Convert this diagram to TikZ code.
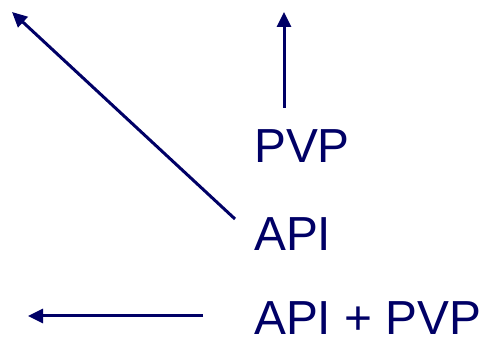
\documentclass[tikz,border=0pt]{standalone}
\usepackage{fontspec}
\setmainfont{Liberation Sans}
\usetikzlibrary{arrows.meta}
\definecolor{navy}{HTML}{000066}
\begin{document}
\begin{tikzpicture}[x=1pt,y=1pt,
  label/.style={anchor=base west,inner sep=0pt,text=navy,font=\fontsize{47.8}{52}\selectfont},
  pointer/.style={draw=navy,line width=3pt,-{Triangle[length=15pt,width=14pt]}}]
  \useasboundingbox (0,0) rectangle (483,339);
  \node[label] (pvp) at (254,176) {PVP};
  \node[label] (api) at (254,88) {API};
  \node[label] (both) at (254,4) {API + PVP};
  \coordinate (pvpstart) at (284,231);
  \coordinate (pvpend) at (284,327);
  \coordinate (apistart) at (235,120);
  \coordinate (apiend) at (12,327);
  \coordinate (bothstart) at (203,23);
  \coordinate (bothend) at (28,23);
  \draw[pointer] (pvpstart) -- (pvpend);
  \draw[pointer] (apistart) -- (apiend);
  \draw[pointer] (bothstart) -- (bothend);
\end{tikzpicture}
\end{document}
